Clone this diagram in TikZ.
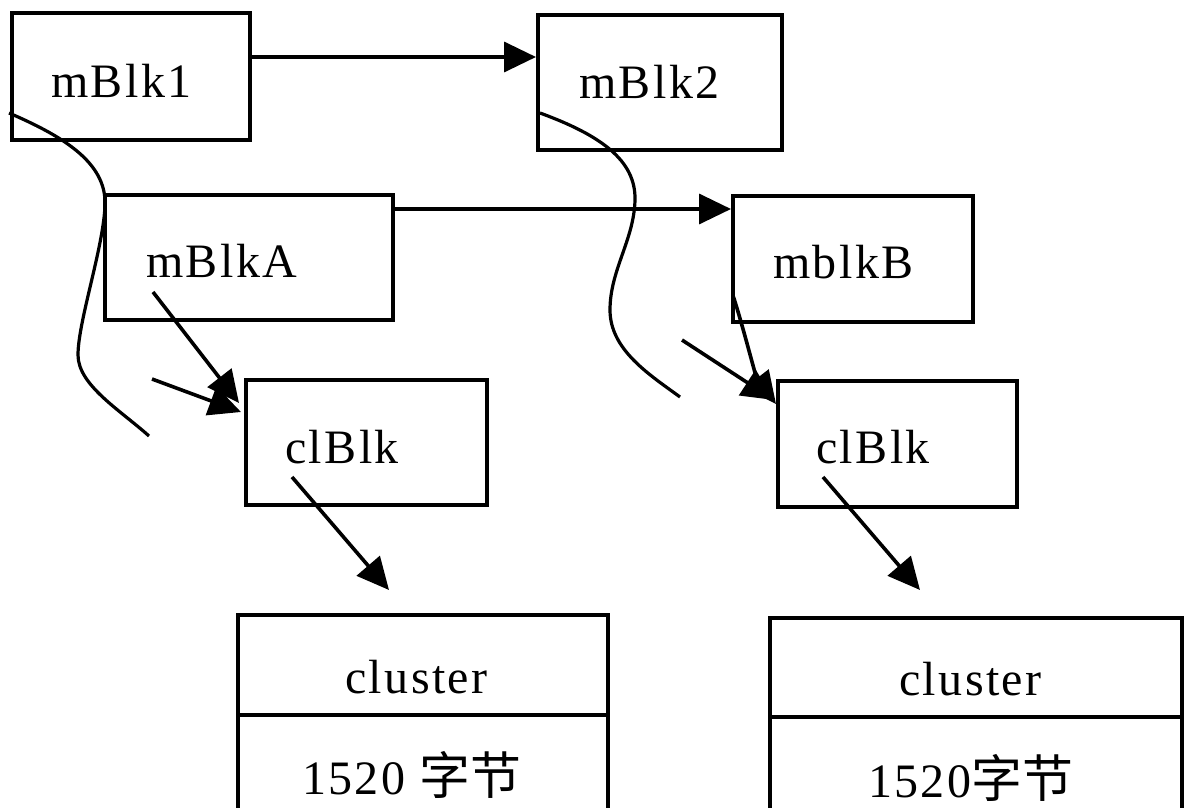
\documentclass[tikz,border=0pt]{standalone}
\usepackage{fontspec}
\setmainfont{Liberation Serif}[LetterSpace=5]
\newfontfamily\cjkfont{Noto Sans CJK SC}[Scale=1.06]
\usetikzlibrary{arrows.meta,calc}

\tikzset{
  box/.style={draw, line width=4pt, inner sep=0pt},
  lbl/.style={anchor=base west, inner sep=0pt, font=\fontsize{48}{56}\selectfont},
  link/.style={line width=3.6pt, -{Triangle[length=32pt,width=30pt]}},
  wave/.style={line width=3.2pt},
}

\begin{document}
\begin{tikzpicture}[x=1pt, y=-1pt]
\fill[white] (0,0) rectangle (1188,808);
\clip (0,0) rectangle (1188,808);

% mbuf blocks
\node[box, minimum width=238pt, minimum height=127pt] (m1) at (131,76.5) {};
\node[box, minimum width=244pt, minimum height=135pt] (m2) at (660,82.5) {};
\node[box, minimum width=288pt, minimum height=125pt] (mA) at (249,257.5) {};
\node[box, minimum width=240pt, minimum height=126pt] (mB) at (853,259) {};

% cluster descriptor blocks
\node[box, minimum width=241pt, minimum height=125pt] (cL) at (366.5,442.5) {};
\node[box, minimum width=239pt, minimum height=126pt] (cR) at (897.5,444) {};

% clusters (two cells each, running off the bottom)
\node[box, minimum width=370pt, minimum height=100pt] (kLa) at (423,665) {};
\node[box, minimum width=370pt, minimum height=185pt] (kLb) at (423,807.5) {};
\node[box, minimum width=412pt, minimum height=99pt] (kRa) at (976,667.5) {};
\node[box, minimum width=412pt, minimum height=183pt] (kRb) at (976,808.5) {};

% labels
\node[lbl] (t1) at (51,97) {mBlk1};
\node[lbl] (t2) at (579,98) {mBlk2};
\node[lbl] (tA) at (146,277) {mBlkA};
\node[lbl] (tB) at (773,278) {mblkB};
\node[lbl] (tcL) at (285,463) {clBlk};
\node[lbl] (tcR) at (816,463) {clBlk};
\node[lbl] (tkLa) at (345,693) {cluster};
\node[lbl] (tkRa) at (899,695) {cluster};
\node[lbl] (tkLb) at (302,794) {1520 {\cjkfont 字节}};
\node[lbl] (tkRb) at (868,797) {1520{\cjkfont 字节}};

% chain links
\coordinate (p1) at ($(m1.east)+(0,-19.5)$);
\draw[link] (p1) -- (p1 -| m2.west);
\coordinate (p2) at ($(mA.east)+(0,-48.5)$);
\draw[link] (p2) -- (p2 -| mB.west);

% data pointers
\draw[link] ($(mA.center)+(-96,34.5)$) -- ($(cL.north west)+(-5,25)$);
\coordinate (sL) at (152,379);
\draw[link] (sL) -- ($(cL.north west)+(-3,34)$);
\draw[link] ($(cL.center)+(-74.5,34.5)$) -- ($(kLa.north)+(-34,-23)$);

\draw[link] ($(mB.center)+(-119.5,38)$) .. controls (744,330) and (756,378) .. ($(cR.north west)+(0,25)$);
\coordinate (sR) at (682,340);
\draw[link] (sR) -- ($(cR.north west)+(-2,21)$);
\draw[link] ($(cR.center)+(-74.5,33)$) -- ($(kRa.north)+(-56,-26)$);

% wavy next-packet lines
\coordinate (wL) at (149,436);
\draw[wave] ($(m1.west)+(-1,36.5)$) .. controls (60,135) and (103,160) .. (105,200)
  .. controls (106,240) and (78,320) .. (78,355)
  .. controls (78,385) and (120,410) .. (wL);
\coordinate (wR) at (680,397);
\draw[wave] ($(m2.west)+(4,30.5)$) .. controls (600,135) and (636,160) .. (635,200)
  .. controls (634,240) and (610,270) .. (610,310)
  .. controls (610,350) and (650,375) .. (wR);
\end{tikzpicture}
\end{document}
